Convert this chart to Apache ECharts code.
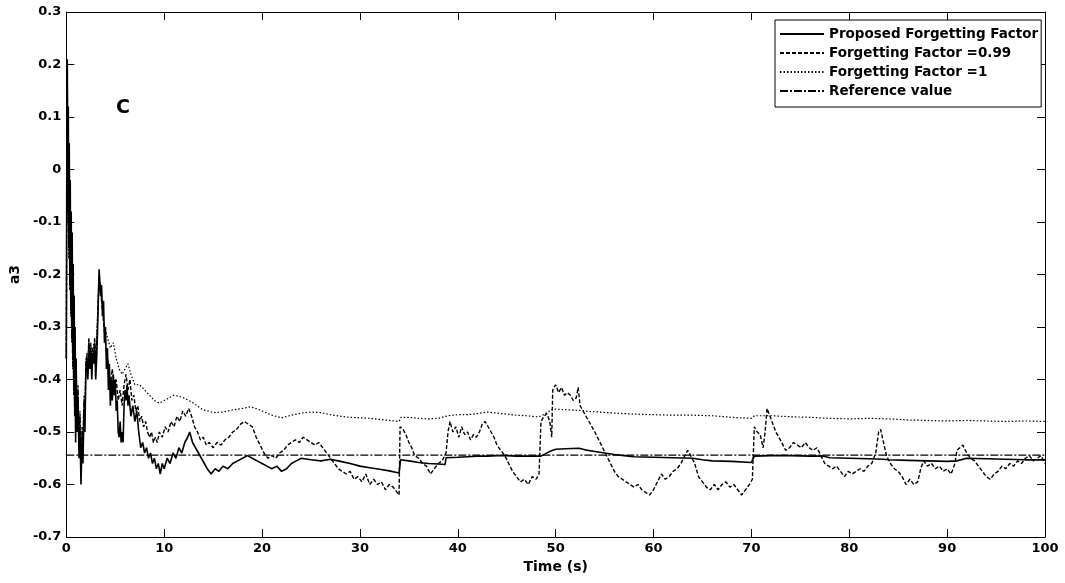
<!DOCTYPE html>
<html>
<head>
<meta charset="utf-8">
<title>a3 estimate</title>
<script src="https://cdn.jsdelivr.net/npm/echarts@6/dist/echarts.min.js"></script>
<style>
  html, body { margin: 0; padding: 0; background: #fff; }
  #chart { width: 1065px; height: 583px; }
</style>
</head>
<body>
<div id="chart"></div>
<script>
// Axis ranges and tick spacing
const xTicks = { min: 0, max: 100, step: 10 };
const yTicks = { min: -0.7, max: 0.3, step: 0.1 };

const legendNames = ['Proposed Forgetting Factor', 'Forgetting Factor =0.99', 'Forgetting Factor =1', 'Reference value'];

// Reference value of a3
const referenceValue = -0.544;

// Estimate with the proposed forgetting factor: [time (s), a3]
const proposed = [
  [0,-0.36],[0.05,0.02],[0.1,0.21],[0.15,-0.05],[0.2,0.12],[0.25,-0.12],[0.3,0.05],[0.35,-0.2],[0.4,-0.02],[0.45,-0.25],
  [0.5,-0.08],[0.55,-0.3],[0.6,-0.12],[0.65,-0.35],[0.7,-0.18],[0.75,-0.4],[0.8,-0.24],[0.85,-0.45],[0.9,-0.3],[0.95,-0.52],
  [1.0,-0.36],[1.1,-0.5],[1.2,-0.44],[1.3,-0.55],[1.4,-0.5],[1.5,-0.6],[1.6,-0.52],[1.7,-0.56],[1.8,-0.46],[1.9,-0.5],
  [2.0,-0.38],[2.1,-0.36],[2.2,-0.4],[2.3,-0.33],[2.4,-0.38],[2.5,-0.34],[2.6,-0.4],[2.7,-0.35],[2.8,-0.37],[2.9,-0.33],
  [3.0,-0.4],[3.1,-0.36],[3.2,-0.3],[3.35,-0.19],[3.5,-0.24],[3.6,-0.22],[3.7,-0.28],[3.8,-0.25],[3.9,-0.33],[4.0,-0.3],
  [4.1,-0.38],[4.2,-0.34],[4.3,-0.42],[4.4,-0.37],[4.5,-0.45],[4.6,-0.4],[4.7,-0.44],[4.8,-0.39],[4.9,-0.43],[5.0,-0.4],
  [5.1,-0.46],[5.2,-0.44],[5.3,-0.5],[5.4,-0.51],[5.5,-0.48],[5.6,-0.52],[5.7,-0.5],[5.8,-0.52],[5.9,-0.45],[6.0,-0.42],
  [6.1,-0.44],[6.2,-0.41],[6.3,-0.45],[6.4,-0.43],[6.6,-0.47],[6.8,-0.45],[7.0,-0.48],[7.2,-0.46],[7.4,-0.5],[7.6,-0.53],
  [7.8,-0.52],[8.0,-0.54],[8.2,-0.53],[8.4,-0.55],[8.6,-0.54],[8.8,-0.56],[9.0,-0.55],[9.2,-0.57],[9.4,-0.56],[9.6,-0.58],
  [9.8,-0.56],[10.0,-0.57],[10.3,-0.55],[10.6,-0.56],[10.9,-0.54],[11.2,-0.55],[11.5,-0.53],[11.8,-0.54],[12.1,-0.52],[12.4,-0.51],
  [12.6,-0.5],[12.9,-0.52],[13.2,-0.53],[13.5,-0.54],[13.8,-0.55],[14.1,-0.56],[14.4,-0.57],[14.8,-0.58],[15.2,-0.57],[15.6,-0.575],
  [16.0,-0.565],[16.5,-0.57],[17.0,-0.56],[17.5,-0.555],[18.0,-0.55],[18.5,-0.545],[19.0,-0.55],[19.5,-0.555],[20.0,-0.56],[20.5,-0.565],
  [21,-0.57],[21.5,-0.565],[22,-0.575],[22.5,-0.57],[23,-0.56],[23.5,-0.555],[24,-0.55],[25,-0.553],[26,-0.555],[27,-0.552],
  [28,-0.556],[29,-0.56],[30,-0.565],[31,-0.568],[32,-0.571],[33,-0.574],[34,-0.578],[34.15,-0.553],[35,-0.555],[36,-0.558],
  [37,-0.56],[38,-0.561],[38.7,-0.562],[38.8,-0.549],[40,-0.548],[41,-0.547],[42,-0.546],[43,-0.546],[44,-0.545],[45,-0.545],
  [46,-0.546],[47,-0.546],[48,-0.546],[48.5,-0.546],[49.5,-0.536],[50,-0.533],[51,-0.532],[52.4,-0.531],[53,-0.534],[54,-0.537],
  [55,-0.54],[56,-0.543],[57,-0.545],[58,-0.547],[60,-0.548],[62,-0.549],[64,-0.55],[65,-0.553],[66,-0.555],[68,-0.556],
  [70,-0.558],[70.2,-0.558],[70.3,-0.546],[72,-0.545],[74,-0.545],[76,-0.546],[77.4,-0.546],[78,-0.549],[80,-0.55],[82,-0.551],
  [83.5,-0.552],[84,-0.553],[86,-0.554],[88,-0.555],[90,-0.556],[91,-0.555],[92,-0.55],[94,-0.551],[96,-0.552],[98,-0.553],
  [100,-0.553]
];

// Estimate with forgetting factor 0.99
const ff099 = [
  [0,-0.36],[0.05,0.0],[0.1,0.18],[0.15,-0.08],[0.2,0.08],[0.25,-0.15],[0.3,0.02],[0.35,-0.22],[0.4,-0.05],[0.45,-0.27],
  [0.5,-0.1],[0.55,-0.32],[0.6,-0.15],[0.65,-0.37],[0.7,-0.2],[0.75,-0.42],[0.8,-0.27],[0.85,-0.47],[0.9,-0.33],[0.95,-0.5],
  [1.0,-0.38],[1.1,-0.48],[1.2,-0.42],[1.3,-0.53],[1.4,-0.47],[1.5,-0.57],[1.6,-0.5],[1.7,-0.53],[1.8,-0.44],[1.9,-0.47],
  [2.0,-0.37],[2.1,-0.35],[2.2,-0.39],[2.3,-0.32],[2.4,-0.37],[2.5,-0.33],[2.6,-0.38],[2.7,-0.34],[2.8,-0.36],[2.9,-0.32],
  [3.0,-0.38],[3.1,-0.34],[3.2,-0.28],[3.35,-0.2],[3.5,-0.23],[3.7,-0.27],[3.9,-0.31],[4.1,-0.35],[4.3,-0.37],[4.5,-0.41],
  [4.7,-0.38],[4.9,-0.42],[5.1,-0.4],[5.3,-0.44],[5.5,-0.42],[5.7,-0.45],[5.9,-0.41],[6.1,-0.39],[6.3,-0.42],[6.5,-0.4],
  [6.7,-0.44],[6.9,-0.43],[7.1,-0.46],[7.3,-0.45],[7.5,-0.48],[7.7,-0.47],[7.9,-0.49],[8.1,-0.48],[8.3,-0.5],[8.5,-0.51],
  [8.7,-0.5],[8.9,-0.52],[9.1,-0.51],[9.3,-0.52],[9.5,-0.5],[9.8,-0.51],[10.1,-0.49],[10.4,-0.5],[10.7,-0.48],[11.0,-0.49],
  [11.3,-0.47],[11.6,-0.48],[11.9,-0.46],[12.2,-0.47],[12.5,-0.455],[12.8,-0.47],[13.1,-0.49],[13.4,-0.5],[13.7,-0.515],[14.0,-0.51],
  [14.3,-0.525],[14.6,-0.52],[15.0,-0.53],[15.4,-0.52],[15.8,-0.525],[16.2,-0.515],[16.6,-0.51],[17.0,-0.5],[17.4,-0.495],[17.8,-0.485],
  [18.2,-0.48],[18.6,-0.485],[19.0,-0.49],[19.4,-0.51],[19.8,-0.525],[20.2,-0.54],[20.6,-0.55],[21.0,-0.545],[21.4,-0.55],[21.8,-0.54],
  [22.2,-0.535],[22.6,-0.525],[23.0,-0.52],[23.4,-0.515],[23.8,-0.52],[24.2,-0.51],[24.6,-0.515],[25.0,-0.52],[25.4,-0.525],[25.8,-0.52],
  [26.2,-0.53],[26.6,-0.54],[27.0,-0.55],[27.4,-0.56],[27.8,-0.57],[28.2,-0.575],[28.6,-0.58],[29.0,-0.575],[29.4,-0.59],[29.8,-0.585],
  [30.2,-0.595],[30.6,-0.58],[31.0,-0.6],[31.4,-0.59],[31.8,-0.6],[32.2,-0.595],[32.6,-0.61],[33.0,-0.6],[33.4,-0.605],[33.8,-0.615],
  [34.0,-0.62],[34.1,-0.49],[34.4,-0.495],[34.7,-0.505],[35.0,-0.52],[35.3,-0.53],[35.6,-0.545],[36.0,-0.55],[36.4,-0.56],[36.8,-0.565],
  [37.2,-0.58],[37.6,-0.57],[38.0,-0.56],[38.4,-0.555],[38.8,-0.54],[39.0,-0.5],[39.2,-0.48],[39.5,-0.5],[39.8,-0.49],[40.1,-0.51],
  [40.4,-0.49],[40.7,-0.505],[41.0,-0.5],[41.3,-0.515],[41.6,-0.505],[41.9,-0.51],[42.2,-0.5],[42.5,-0.485],[42.8,-0.48],[43.1,-0.49],
  [43.4,-0.5],[43.7,-0.51],[44.0,-0.525],[44.4,-0.535],[44.8,-0.545],[45.2,-0.56],[45.6,-0.575],[46.0,-0.585],[46.4,-0.595],[46.8,-0.59],
  [47.2,-0.6],[47.6,-0.585],[48.0,-0.59],[48.3,-0.58],[48.5,-0.48],[48.8,-0.47],[49.1,-0.465],[49.4,-0.48],[49.6,-0.51],[49.7,-0.42],
  [50.0,-0.41],[50.3,-0.425],[50.6,-0.415],[50.9,-0.43],[51.2,-0.425],[51.5,-0.43],[51.8,-0.44],[52.1,-0.435],[52.3,-0.415],[52.5,-0.45],
  [52.8,-0.46],[53.1,-0.47],[53.4,-0.48],[53.7,-0.49],[54.0,-0.5],[54.4,-0.515],[54.8,-0.53],[55.2,-0.545],[55.6,-0.56],[56.0,-0.575],
  [56.4,-0.585],[56.8,-0.59],[57.2,-0.595],[57.6,-0.6],[58.0,-0.605],[58.4,-0.6],[58.8,-0.61],[59.2,-0.615],[59.6,-0.62],[60.0,-0.61],
  [60.4,-0.595],[60.8,-0.58],[61.2,-0.59],[61.6,-0.585],[62.0,-0.575],[62.4,-0.57],[62.8,-0.56],[63.2,-0.545],[63.5,-0.535],[63.8,-0.545],
  [64.2,-0.56],[64.6,-0.585],[65.0,-0.595],[65.4,-0.605],[65.8,-0.61],[66.2,-0.6],[66.6,-0.61],[67.0,-0.6],[67.4,-0.595],[67.8,-0.605],
  [68.2,-0.6],[68.6,-0.61],[69.0,-0.62],[69.4,-0.61],[69.8,-0.6],[70.1,-0.59],[70.3,-0.49],[70.6,-0.5],[70.9,-0.505],[71.2,-0.53],
  [71.4,-0.5],[71.6,-0.455],[71.9,-0.47],[72.2,-0.485],[72.5,-0.5],[72.8,-0.51],[73.1,-0.52],[73.5,-0.535],[73.9,-0.53],[74.3,-0.52],
  [74.7,-0.525],[75.1,-0.53],[75.5,-0.52],[75.9,-0.53],[76.3,-0.535],[76.7,-0.53],[77.1,-0.545],[77.5,-0.56],[77.9,-0.565],[78.3,-0.57],
  [78.7,-0.565],[79.1,-0.575],[79.5,-0.585],[79.9,-0.575],[80.3,-0.58],[80.7,-0.575],[81.1,-0.57],[81.5,-0.575],[81.9,-0.565],[82.3,-0.56],
  [82.7,-0.54],[83.0,-0.5],[83.2,-0.495],[83.5,-0.52],[83.8,-0.545],[84.2,-0.56],[84.6,-0.57],[85.0,-0.575],[85.4,-0.585],[85.8,-0.6],
  [86.2,-0.59],[86.6,-0.6],[87.0,-0.595],[87.3,-0.57],[87.6,-0.555],[88.0,-0.565],[88.4,-0.56],[88.8,-0.57],[89.2,-0.565],[89.6,-0.575],
  [90.0,-0.57],[90.4,-0.58],[90.8,-0.56],[91.0,-0.535],[91.3,-0.53],[91.6,-0.525],[92.0,-0.54],[92.4,-0.55],[92.8,-0.555],[93.2,-0.565],
  [93.6,-0.575],[94.0,-0.585],[94.4,-0.59],[94.8,-0.58],[95.2,-0.575],[95.6,-0.565],[96.0,-0.57],[96.4,-0.56],[96.8,-0.565],[97.2,-0.555],
  [97.6,-0.56],[98.0,-0.55],[98.4,-0.545],[98.8,-0.555],[99.2,-0.55],[99.6,-0.545],[100,-0.56]
];

// Estimate with forgetting factor 1
const ff1 = [
  [0,-0.36],[0.05,0.0],[0.1,0.16],[0.15,-0.1],[0.2,0.06],[0.25,-0.17],[0.3,0.0],[0.35,-0.23],[0.4,-0.07],[0.45,-0.28],
  [0.5,-0.12],[0.55,-0.33],[0.6,-0.17],[0.65,-0.38],[0.7,-0.22],[0.75,-0.43],[0.8,-0.29],[0.85,-0.46],[0.9,-0.34],[0.95,-0.49],
  [1.0,-0.39],[1.1,-0.47],[1.2,-0.41],[1.3,-0.52],[1.4,-0.46],[1.5,-0.55],[1.6,-0.49],[1.7,-0.51],[1.8,-0.43],[1.9,-0.45],
  [2.0,-0.36],[2.2,-0.38],[2.4,-0.34],[2.6,-0.37],[2.8,-0.33],[3.0,-0.37],[3.2,-0.27],[3.35,-0.21],[3.6,-0.25],[3.9,-0.3],
  [4.2,-0.32],[4.5,-0.34],[4.8,-0.33],[5.1,-0.36],[5.4,-0.38],[5.7,-0.39],[6.0,-0.38],[6.3,-0.37],[6.6,-0.39],[7.0,-0.41],
  [7.5,-0.41],[8.0,-0.42],[8.5,-0.43],[9.0,-0.44],[9.5,-0.445],[10.0,-0.44],[10.5,-0.435],[11.0,-0.43],[11.5,-0.432],[12.0,-0.435],
  [12.5,-0.44],[13.0,-0.445],[13.5,-0.452],[14.0,-0.458],[14.5,-0.46],[15.0,-0.463],[16.0,-0.462],[17.0,-0.458],[18.0,-0.455],[18.8,-0.452],
  [19.5,-0.456],[20.0,-0.46],[21.0,-0.468],[22.0,-0.473],[23.0,-0.468],[24.0,-0.464],[25.0,-0.462],[26.0,-0.463],[27.0,-0.467],[28.0,-0.47],
  [29.0,-0.472],[30.0,-0.473],[31.0,-0.474],[32.0,-0.476],[33.0,-0.478],[34.0,-0.48],[34.2,-0.472],[35.0,-0.472],[36.0,-0.474],[37.0,-0.475],
  [38.0,-0.474],[39.0,-0.469],[40.0,-0.467],[41.0,-0.467],[42.0,-0.465],[43.0,-0.462],[44.0,-0.464],[45.0,-0.466],[46.0,-0.468],[47.0,-0.469],
  [48.0,-0.471],[48.5,-0.47],[49.7,-0.456],[50.5,-0.457],[51.5,-0.458],[52.5,-0.459],[53.5,-0.461],[54.5,-0.462],[56.0,-0.464],[58.0,-0.466],
  [60.0,-0.467],[62.0,-0.468],[64.0,-0.468],[66.0,-0.469],[68.0,-0.472],[70.0,-0.474],[70.3,-0.469],[72.0,-0.469],[74.0,-0.471],[76.0,-0.472],
  [78.0,-0.474],[80.0,-0.475],[82.0,-0.474],[84.0,-0.475],[86.0,-0.477],[88.0,-0.478],[90.0,-0.479],[92.0,-0.478],[94.0,-0.479],[96.0,-0.48],
  [98.0,-0.479],[100,-0.48]
];

const FONT = 'DejaVu Sans';
const chart = echarts.init(document.getElementById('chart'), null, { renderer: 'canvas' });

const tickLabel = { color: '#000', fontFamily: FONT, fontWeight: 'bold', fontSize: 13 };
const blackLine = { show: true, onZero: false, lineStyle: { color: '#000', width: 1 } };
const innerTick = { show: true, inside: true, length: 8, lineStyle: { color: '#000', width: 1 } };

chart.setOption({
  animation: false,
  backgroundColor: '#fff',
  color: ['#000'],
  grid: { left: 62, right: 20, top: 12, bottom: 46, containLabel: false },
  legend: {
    data: legendNames,
    orient: 'vertical',
    left: 775,
    top: 20,
    padding: [7, 3, 9, 4],
    itemGap: 5,
    itemWidth: 44,
    itemHeight: 14,
    itemStyle: { opacity: 0 },
    backgroundColor: '#fff',
    borderColor: '#000',
    borderWidth: 1,
    borderRadius: 0,
    textStyle: { color: '#000', fontFamily: FONT, fontWeight: 'bold', fontSize: 13.5 },
    selectedMode: false
  },
  xAxis: [
    {
      type: 'value', min: xTicks.min, max: xTicks.max, interval: xTicks.step,
      name: 'Time (s)', nameLocation: 'middle', nameGap: 22,
      nameTextStyle: { color: '#000', fontFamily: FONT, fontWeight: 'bold', fontSize: 14 },
      axisLine: blackLine, axisTick: innerTick,
      axisLabel: Object.assign({ margin: 5 }, tickLabel),
      splitLine: { show: false }
    },
    {
      type: 'value', position: 'top', min: xTicks.min, max: xTicks.max, interval: xTicks.step,
      axisLine: blackLine, axisTick: innerTick, axisLabel: { show: false }, splitLine: { show: false }
    }
  ],
  yAxis: [
    {
      type: 'value', min: yTicks.min, max: yTicks.max, interval: yTicks.step,
      name: 'a3', nameLocation: 'middle', nameGap: 40, nameRotate: 90,
      nameTextStyle: { color: '#000', fontFamily: FONT, fontWeight: 'bold', fontSize: 14 },
      axisLine: blackLine, axisTick: innerTick,
      axisLabel: Object.assign({ margin: 5 }, tickLabel),
      splitLine: { show: false }
    },
    {
      type: 'value', position: 'right', min: yTicks.min, max: yTicks.max, interval: yTicks.step,
      axisLine: blackLine, axisTick: innerTick, axisLabel: { show: false }, splitLine: { show: false }
    }
  ],
  series: [
    {
      name: 'Reference value', type: 'line', showSymbol: false, symbol: 'none',
      data: [[xTicks.min, referenceValue], [xTicks.max, referenceValue]],
      lineStyle: { color: '#000', width: 1.3, type: [8, 2, 2, 2] }, z: 2
    },
    {
      name: 'Forgetting Factor =1', type: 'line', showSymbol: false, symbol: 'none', data: ff1,
      lineStyle: { color: '#000', width: 1.2, type: [1.5, 2] }, z: 3
    },
    {
      name: 'Forgetting Factor =0.99', type: 'line', showSymbol: false, symbol: 'none', data: ff099,
      lineStyle: { color: '#000', width: 1.4, type: [4, 2] }, z: 4
    },
    {
      name: 'Proposed Forgetting Factor', type: 'line', showSymbol: false, symbol: 'none', data: proposed,
      lineStyle: { color: '#000', width: 1.6, type: 'solid' }, z: 5
    }
  ],
  graphic: [
    {
      type: 'text', left: 116, top: 99,
      style: { text: 'C', fill: '#000', font: 'bold 19px "DejaVu Sans"' }
    }
  ]
});
</script>
</body>
</html>
